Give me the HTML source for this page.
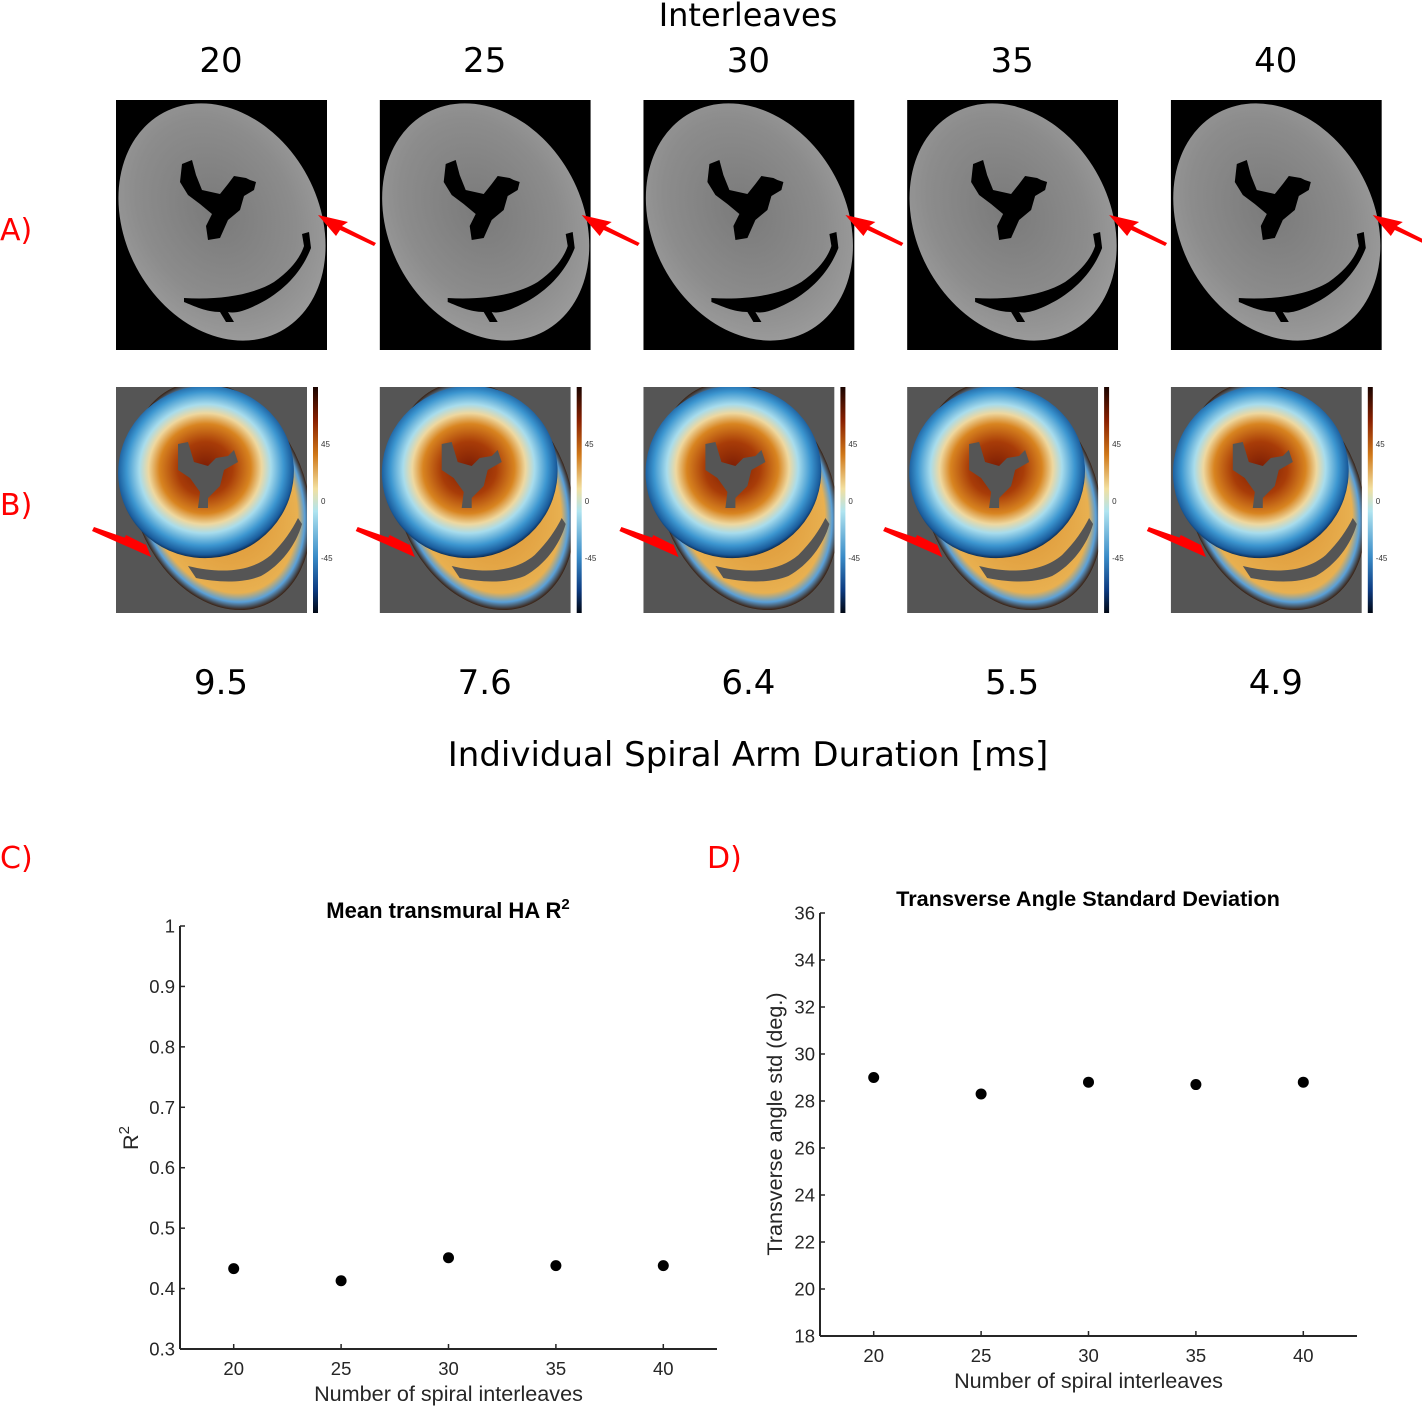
<!DOCTYPE html>
<html><head><meta charset="utf-8">
<style>
body{margin:0;background:#fff;}
svg{display:block;font-family:"Liberation Sans","DejaVu Sans",sans-serif;}
.big{font-family:"DejaVu Sans","Liberation Sans",sans-serif;}
</style></head>
<body>
<svg id="fig" width="1422" height="1406" viewBox="0 0 1422 1406" xmlns="http://www.w3.org/2000/svg">
<defs>
<clipPath id="bclip"><rect x="0" y="387" width="191" height="226"/></clipPath>
<clipPath id="aclip"><rect x="0" y="100" width="211" height="250"/></clipPath>
<radialGradient id="grayG" cx="50%" cy="45%" r="55%">
<stop offset="0" stop-color="#7a7a7a"/><stop offset="0.7" stop-color="#8c8c8c"/><stop offset="1" stop-color="#9a9a9a"/>
</radialGradient>
<radialGradient id="haG" cx="50%" cy="48%" r="52%">
<stop offset="0" stop-color="#7a1c04"/><stop offset="0.3" stop-color="#a83c08"/><stop offset="0.5" stop-color="#d88420"/>
<stop offset="0.62" stop-color="#eed8a0"/><stop offset="0.72" stop-color="#a8dcec"/><stop offset="0.86" stop-color="#3c96d0"/>
<stop offset="0.96" stop-color="#1a5c9c"/><stop offset="1" stop-color="#0c2a50"/>
</radialGradient>
<radialGradient id="outerG" cx="50%" cy="50%" r="50%">
<stop offset="0" stop-color="#d88a2a"/><stop offset="0.85" stop-color="#e8b050"/><stop offset="0.93" stop-color="#5aa0d8"/><stop offset="1" stop-color="#3a2010"/>
</radialGradient>
<linearGradient id="cbar" x1="0" y1="0" x2="0" y2="1">
<stop offset="0" stop-color="#1a0400"/><stop offset="0.15" stop-color="#8a2000"/><stop offset="0.3" stop-color="#d07818"/>
<stop offset="0.45" stop-color="#f2e0a0"/><stop offset="0.55" stop-color="#b0e4f0"/><stop offset="0.75" stop-color="#3a8cc8"/>
<stop offset="0.9" stop-color="#0c3a80"/><stop offset="1" stop-color="#020814"/>
</linearGradient>
</defs>
<g id="topPanels"></g>
<g id="chartC"></g>
<g id="chartD"></g>
</svg>
<script>
const NS="http://www.w3.org/2000/svg";
function mk(parent,tag,attrs,text){const e=document.createElementNS(NS,tag);for(const k in attrs)e.setAttribute(k,attrs[k]);if(text!==undefined)e.textContent=text;parent.appendChild(e);return e;}

// ---- Top panel data ----
const interleaves=[20,25,30,35,40];
const durations=["9.5","7.6","6.4","5.5","4.9"];
// ---- Chart C data ----
const cX=[20,25,30,35,40];
const cY=[0.433,0.413,0.451,0.438,0.438];
const cYTicks=[0.3,0.4,0.5,0.6,0.7,0.8,0.9,1];
const cYLabels=["0.3","0.4","0.5","0.6","0.7","0.8","0.9","1"];
// ---- Chart D data ----
const dX=[20,25,30,35,40];
const dY=[29.0,28.3,28.8,28.7,28.8];
const dYTicks=[18,20,22,24,26,28,30,32,34,36];
const dYLabels=["18","20","22","24","26","28","30","32","34","36"];
const xTicks=[20,25,30,35,40];

const topG=document.getElementById('topPanels');
let t;
t=mk(topG,'text',{x:748,y:26,'font-size':32,'text-anchor':'middle',class:'big'},'Interleaves');


t=mk(topG,'text',{x:0,y:240,'font-size':30,fill:'#f00',class:'big'},'A)');


t=mk(topG,'text',{x:0,y:515,'font-size':30,fill:'#f00',class:'big'},'B)');


t=mk(topG,'text',{x:748,y:766,'font-size':34,'text-anchor':'middle',class:'big'},'Individual Spiral Arm Duration [ms]');


t=mk(topG,'text',{x:0,y:868,'font-size':30,fill:'#f00',class:'big'},'C)');


t=mk(topG,'text',{x:707,y:868,'font-size':30,fill:'#f00',class:'big'},'D)');



interleaves.forEach((n,i)=>{
  const ox=116+i*263.7;
  const g=mk(topG,'g',{transform:`translate(${ox},0)`});
  
  
  let e=mk(g,'text',{x:105,y:72,'font-size':34,'text-anchor':'middle',class:'big'},String(n));
  
  
  e=mk(g,'text',{x:105,y:694,'font-size':34,'text-anchor':'middle',class:'big'},durations[i]);
  
  
  const a=mk(g,'g',{'clip-path':'url(#aclip)'});
  
  
  mk(a,'rect',{x:0,y:100,width:211,height:250,fill:'#000'});
  mk(a,'ellipse',{cx:106,cy:222,rx:97,ry:124,fill:'url(#grayG)',transform:'rotate(-28 106 222)'});
  mk(a,'path',{d:'M66,164 L76,160 L80,175 L86,190 L104,194 L112,184 L118,176 L130,178 L134,180 L140,182 L138,190 L128,196 L124,210 L112,220 L104,238 L92,240 L90,226 L96,214 L84,204 L72,195 L64,182 Z',fill:'#000'});
  mk(a,'path',{d:'M68,298 C100,300 135,296 158,282 C175,270 184,258 188,246 L186,234 L193,232 L195,248 C188,266 175,285 150,300 C132,310 120,314 112,312 L118,322 L110,322 L104,312 C90,312 78,306 68,302 Z',fill:'#000'});
  mk(g,'polygon',{points:'202,215 232,222 226,226 260,243 258,246 224,230 220,236',fill:'#f00'});
  const b=mk(g,'g',{'clip-path':'url(#bclip)'});
  
  
  mk(b,'rect',{x:0,y:387,width:191,height:226,fill:'#555'});
  mk(b,'ellipse',{cx:104,cy:496,rx:86,ry:118,fill:'url(#outerG)',transform:'rotate(-22 104 496)'});
  mk(b,'ellipse',{cx:90,cy:472,rx:88,ry:86,fill:'url(#haG)',transform:'rotate(-15 90 472)'});
  mk(b,'path',{d:'M62,444 L72,442 L78,462 L92,466 L100,458 L112,456 L118,450 L122,462 L108,470 L104,486 L92,498 L92,508 L82,508 L84,492 L74,478 L62,470 Z',fill:'#555'});
  mk(b,'path',{d:'M72,566 C105,574 135,572 155,555 C168,542 176,530 182,518 L186,524 C180,545 165,565 145,576 C125,584 100,582 80,578 Z',fill:'#555'});
  mk(b,'polygon',{points:'35,557 8,539 10,535 30,545 27,537',fill:'#f00'});
  mk(g,'polygon',{points:'35,557 -24,531 -22,527 30,545 27,537',fill:'#f00'});
  mk(g,'rect',{x:197,y:387,width:5,height:226,fill:'url(#cbar)'});
  [['45',444],['0',501],['-45',558]].forEach(([l,y])=>{
    const c=mk(g,'text',{x:205,y:y+3,'font-size':8,fill:'#333'},l);
    
    
  });
});

function chart(id,xs,ys,yTicks,yLabels,cfg){
  const g=document.getElementById(id);
  
  
  const sx=v=>cfg.x0+(v-17.5)/25*(cfg.x1-cfg.x0);
  const sy=v=>cfg.y0-(v-cfg.ymin)/(cfg.ymax-cfg.ymin)*(cfg.y0-cfg.y1);
  let e=mk(g,'line',{x1:cfg.x0,y1:cfg.y1,x2:cfg.x0,y2:cfg.y0,stroke:'#262626','stroke-width':2});
  
  
  e=mk(g,'line',{x1:cfg.x0,y1:cfg.y0,x2:cfg.x1,y2:cfg.y0,stroke:'#262626','stroke-width':2});
  
  
  yTicks.forEach((v,i)=>{
    mk(g,'line',{x1:cfg.x0,y1:sy(v),x2:cfg.x0+5,y2:sy(v),stroke:'#262626','stroke-width':1.5});
    const l=mk(g,'text',{x:cfg.x0-5,y:sy(v)+6.5,'font-size':18.5,'text-anchor':'end',fill:'#262626'},yLabels[i]);
    
    
  });
  xTicks.forEach(v=>{
    mk(g,'line',{x1:sx(v),y1:cfg.y0,x2:sx(v),y2:cfg.y0-5,stroke:'#262626','stroke-width':1.5});
    const l=mk(g,'text',{x:sx(v),y:cfg.y0+26,'font-size':18.5,'text-anchor':'middle',fill:'#262626'},String(v));
    
    
  });
  xs.forEach((x,i)=>{
    const c=mk(g,'circle',{cx:sx(x),cy:sy(ys[i]),r:5.5,fill:'#000'});
    
    
  });
  e=mk(g,'text',{x:(cfg.x0+cfg.x1)/2,y:cfg.y0+52,'font-size':21.6,'text-anchor':'middle',fill:'#262626'},'Number of spiral interleaves');
  
  
  return {sx,sy,g};
}
const C=chart('chartC',cX,cY,cYTicks,cYLabels,{name:'r2-chart',x0:180,x1:717,y0:1349,y1:926,ymin:0.3,ymax:1});
let el=mk(C.g,'text',{x:448,y:918,'font-size':22,'font-weight':'bold','text-anchor':'middle'},'Mean transmural HA R');
mk(el,'tspan',{dy:-9,'font-size':15},'2');


el=mk(C.g,'text',{transform:'translate(138,1138) rotate(-90)','font-size':21.6,'text-anchor':'middle',fill:'#262626'},'R');
mk(el,'tspan',{dy:-9,'font-size':15},'2');


const D=chart('chartD',dX,dY,dYTicks,dYLabels,{name:'std-chart',x0:820,x1:1357,y0:1336,y1:913,ymin:18,ymax:36});
el=mk(D.g,'text',{x:1088,y:906,'font-size':21.7,'font-weight':'bold','text-anchor':'middle'},'Transverse Angle Standard Deviation');


el=mk(D.g,'text',{transform:'translate(782,1124) rotate(-90)','font-size':21.6,'text-anchor':'middle',fill:'#262626'},'Transverse angle std (deg.)');


</script>
</body></html>
